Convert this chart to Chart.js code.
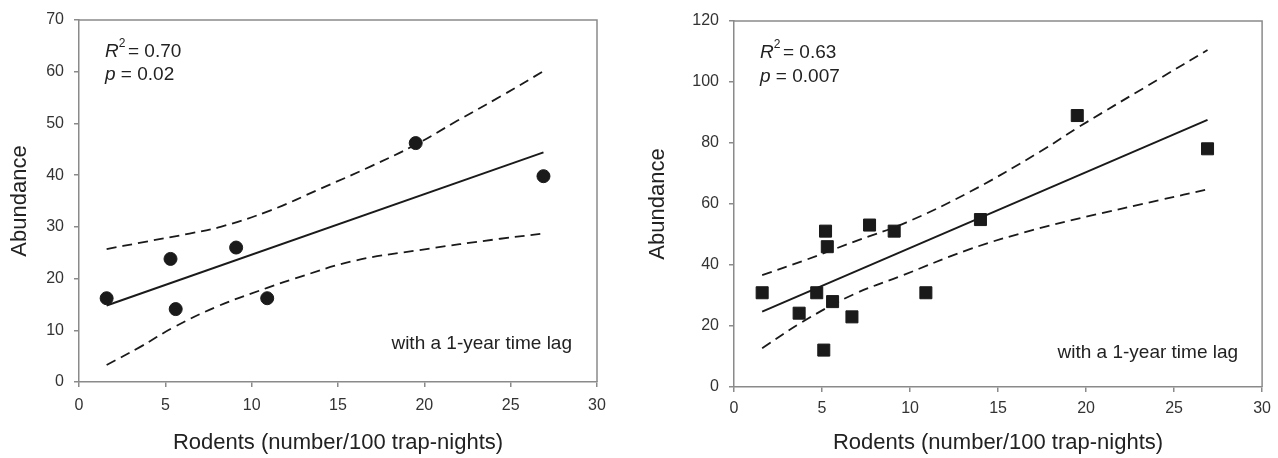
<!DOCTYPE html>
<html>
<head>
<meta charset="utf-8">
<script src="https://cdn.jsdelivr.net/npm/chart.js@4.4.1/dist/chart.umd.min.js"></script>
<style>
  html, body { margin: 0; padding: 0; background: #fff; }
  body { width: 1278px; height: 458px; position: relative; overflow: hidden; }
  .box { position: absolute; top: 0; height: 458px; }
</style>
</head>
<body>
<div class="box" style="left:0;width:640px"><canvas id="left"></canvas></div>
<div class="box" style="left:640px;width:638px"><canvas id="right"></canvas></div>
<script>
// left panel (circles)
const leftX = [1.6, 5.3, 5.6, 9.1, 10.9, 19.5, 26.9];
const leftY = [16.2, 23.8, 14.1, 26.0, 16.2, 46.2, 39.8];
const leftFitX = [1.6, 26.9];
const leftFitY = [14.8, 44.4];
const leftUpperX = [1.6, 3.5, 6.4, 8.2, 11.1, 14.0, 16.9, 19.5, 21.9, 24.4, 26.9];
const leftUpperY = [25.7, 26.9, 28.7, 30.0, 33.2, 37.4, 41.7, 45.9, 50.5, 55.2, 60.1];
const leftLowerX = [1.6, 3.5, 5.5, 8.0, 10.9, 12.4, 15.9, 19.7, 24.4, 26.9];
const leftLowerY = [3.3, 6.7, 10.6, 14.6, 18.2, 19.9, 23.4, 25.5, 27.7, 28.7];
const leftStats = ['0.70', '0.02'];

// right panel (squares)
const rightX = [1.6, 3.7, 4.7, 5.2, 5.3, 5.1, 5.6, 6.7, 7.7, 9.1, 10.9, 14.0, 19.5, 26.9];
const rightY = [30.9, 24.2, 30.9, 51.1, 46.0, 12.1, 28.0, 23.0, 53.1, 51.1, 30.9, 54.9, 89.0, 78.1];
const rightFitX = [1.6, 26.9];
const rightFitY = [24.7, 87.6];
const rightUpperX = [1.6, 3.9, 6.8, 9.8, 13.4, 17.4, 19.6, 24.2, 26.9];
const rightUpperY = [36.7, 41.3, 47.6, 54.0, 64.0, 77.2, 85.3, 101.2, 110.5];
const rightLowerX = [1.6, 3.9, 6.8, 9.4, 13.4, 17.0, 20.0, 24.2, 26.9];
const rightLowerY = [12.7, 21.4, 30.4, 36.2, 45.2, 51.5, 55.8, 61.3, 64.8];
const rightStats = ['0.63', '0.007'];

const xTicks = [0, 5, 10, 15, 20, 25, 30];
const xTitle = 'Rodents (number/100 trap-nights)';
const yTitle = 'Abundance';
const lagNote = 'with a 1-year time lag';

const FONT = "'Liberation Sans', Arial, sans-serif";
const AXIS = '#8a8a8a';
const INK = '#1a1a1a';

function pts(xs, ys) { return xs.map((x, i) => ({ x: x, y: ys[i] })); }

// frame + text notes
const notes = {
  id: 'notes',
  afterDraw(chart, args, o) {
    const { ctx, chartArea: a } = chart;
    ctx.save();
    ctx.strokeStyle = AXIS;
    ctx.lineWidth = 1.5;
    ctx.beginPath();
    ctx.moveTo(a.left, a.top); ctx.lineTo(a.right, a.top); ctx.lineTo(a.right, a.bottom);
    ctx.stroke();

    ctx.fillStyle = '#222';
    ctx.textBaseline = 'middle';
    let x = a.left + o.dx, y = a.top + o.dy;
    ctx.font = 'italic 19px ' + FONT;
    ctx.fillText('R', x, y);
    let w = ctx.measureText('R').width;
    ctx.font = '12px ' + FONT;
    ctx.fillText('2', x + w, y - 8);
    ctx.font = '19px ' + FONT;
    ctx.fillText(' = ' + o.stats[0], x + w + 4, y);
    y += o.gap;
    ctx.font = 'italic 19px ' + FONT;
    ctx.fillText('p', x, y);
    w = ctx.measureText('p').width;
    ctx.font = '19px ' + FONT;
    ctx.fillText(' = ' + o.stats[1], x + w, y);

    ctx.textAlign = 'right';
    ctx.fillText(lagNote, a.right - o.rx, a.bottom - o.by);
    ctx.restore();
  }
};

function makeChart(id, cfg) {
  const ds = [
    { data: pts(cfg.px, cfg.py), showLine: false, pointStyle: cfg.style,
      pointRadius: cfg.r, backgroundColor: INK, borderColor: INK, borderWidth: 1, order: 0 },
    { data: pts(cfg.fx, cfg.fy), showLine: true, pointRadius: 0, borderColor: INK, borderWidth: 2 },
    { data: pts(cfg.ux, cfg.uy), showLine: true, pointRadius: 0, borderColor: INK, borderWidth: 1.8,
      borderDash: [10, 6], tension: 0.4 },
    { data: pts(cfg.lx, cfg.ly), showLine: true, pointRadius: 0, borderColor: INK, borderWidth: 1.8,
      borderDash: [10, 6], tension: 0.4 }
  ];
  return new Chart(document.getElementById(id), {
    type: 'scatter',
    data: { datasets: ds },
    options: {
      responsive: true, maintainAspectRatio: false, animation: false,
      layout: { padding: { left: 0, top: cfg.top, right: cfg.right, bottom: 0 } },
      plugins: { legend: { display: false }, tooltip: { enabled: false },
        notes: { stats: cfg.stats, dx: 26, dy: cfg.ny, gap: cfg.gap, rx: cfg.rx, by: cfg.by } },
      scales: {
        x: {
          type: 'linear', min: 0, max: 30,
          afterBuildTicks: s => { s.ticks = xTicks.map(v => ({ value: v })); },
          afterFit: s => { s.height = cfg.xh; },
          border: { color: AXIS, width: 1.5 },
          grid: { drawOnChartArea: false, color: AXIS, tickLength: 5, lineWidth: 1.5 },
          ticks: { color: '#333', font: { family: FONT, size: 16 }, padding: cfg.xpad, maxRotation: 0 },
          title: { display: true, text: xTitle, color: '#222', font: { family: FONT, size: 22 },
            padding: { top: 0, bottom: 2 } }
        },
        y: {
          min: 0, max: cfg.ymax,
          afterBuildTicks: s => { s.ticks = cfg.yticks.map(v => ({ value: v })); },
          afterFit: s => { s.width = cfg.yw; },
          border: { color: AXIS, width: 1.5 },
          grid: { drawOnChartArea: false, color: AXIS, tickLength: 5, lineWidth: 1.5 },
          ticks: { color: '#333', font: { family: FONT, size: 16 }, padding: 10 },
          title: { display: true, text: yTitle, color: '#222', font: { family: FONT, size: 22 },
            padding: { top: cfg.ytp, bottom: 0 } }
        }
      }
    },
    plugins: [notes]
  });
}

makeChart('left', {
  px: leftX, py: leftY, fx: leftFitX, fy: leftFitY,
  ux: leftUpperX, uy: leftUpperY, lx: leftLowerX, ly: leftLowerY,
  style: 'circle', r: 6.5, stats: leftStats,
  top: 20, right: 43, xh: 76, yw: 79, ymax: 70, yticks: [0, 10, 20, 30, 40, 50, 60, 70],
  xpad: 9, ytp: 7, ny: 32, gap: 23, rx: 25, by: 38
});

makeChart('right', {
  px: rightX, py: rightY, fx: rightFitX, fy: rightFitY,
  ux: rightUpperX, uy: rightUpperY, lx: rightLowerX, ly: rightLowerY,
  style: 'rect', r: 8.5, stats: rightStats,
  top: 21, right: 15, xh: 71, yw: 94, ymax: 120, yticks: [0, 20, 40, 60, 80, 100, 120],
  xpad: 7, ytp: 5, ny: 32, gap: 24, rx: 24, by: 34
});
</script>
</body>
</html>
